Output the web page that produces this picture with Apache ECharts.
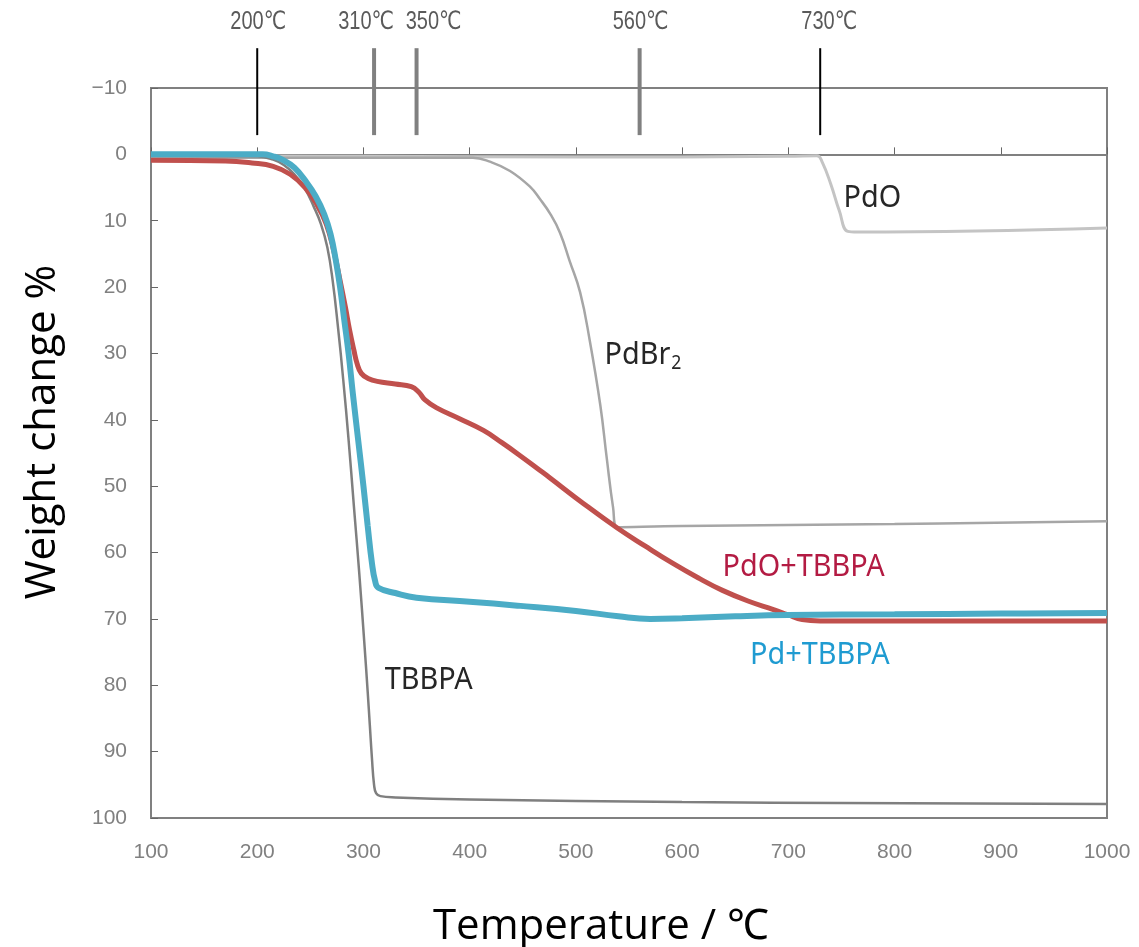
<!DOCTYPE html>
<html>
<head>
<meta charset="utf-8">
<script src="https://cdn.jsdelivr.net/npm/echarts@6/dist/echarts.min.js"></script>
<style>html,body{margin:0;padding:0;background:#fff}#c{width:1139px;height:947px}</style>
</head>
<body>
<div id="c"></div>
<script>
// ---- data ----
var xTicks = [100,200,300,400,500,600,700,800,900,1000];
var yTicks = [-10,0,10,20,30,40,50,60,70,80,90,100];

var pdO = [[100,0.2],[300,0.3],[500,0.4],[700,0.3],[727,0.2],[732,1.2],[740,4.5],[748,8.5],[756,11.6],[765,11.7],[1000,11.1]];
var pdBr2 = [[100,0.5],[300,0.5],[380,0.5],[403,0.5],[419,1.1],[438,2.5],[457,4.9],[466,6.7],[476,9.0],[485,11.8],[494,16.0],[504,20.8],[513,28.0],[523,37.8],[529,45.7],[535,53.2],[539,56.2],[600,56.0],[800,55.7],[1000,55.3]];
var tbbpa = [[100,0.2],[200,0.3],[215,0.8],[225,1.6],[235,3],[245,5.2],[253,7.8],[260,10.5],[266,14],[271,19],[276,26],[281,34],[286,43],[291,53],[296,63],[301,74],[304,81],[306,86],[308,91],[310,95],[312,96.3],[316,96.7],[330,96.9],[400,97.2],[600,97.6],[1000,97.9]];
var pdoTbbpa = [[100,0.9],[170,1.0],[195,1.3],[215,1.8],[231,3],[245,5],[256,7.5],[265,10.5],[272,14.5],[278,19],[283,23],[287,26.5],[291,29.5],[294,31.5],[298,33],[305,33.8],[313,34.2],[330,34.6],[345,35.0],[352,35.8],[358,37],[369,38.2],[390,39.8],[413,41.6],[430,43.4],[445,45.1],[466,47.6],[476,48.8],[507,52.6],[539,56.3],[565,59],[591,61.6],[615,63.8],[638,65.7],[662,67.3],[686,68.6],[700,69.4],[713,70.1],[730,70.3],[800,70.3],[1000,70.3]];
var pdTbbpa = [[100,0],[205,0],[215,0.3],[225,0.9],[235,2],[245,3.9],[255,6.3],[263,9],[269,12],[274,16],[278,20],[282,25],[286,30],[290,36],[295,43],[300,50],[304,56],[308,61.6],[311,64.3],[314,65.3],[330,66.1],[350,66.8],[400,67.4],[445,68],[500,68.8],[540,69.6],[570,70],[600,69.9],[650,69.6],[700,69.4],[800,69.3],[900,69.2],[1000,69.1]];

var markerTemps = [200,310,350,560,730];
var markerLabels = ['200℃','310℃','350℃','560℃','730℃'];

var labelNames = ['PdO','PdBr2','TBBPA','PdO+TBBPA','Pd+TBBPA'];
var labelX = [752,527,320,638,664];
var labelY = [6.6,30.3,79.3,62.2,75.5];

// ---- styles ----
var markerStyle = {200:{c:'#000',w:2,dx:1},310:{c:'#808080',w:4,dx:-8},350:{c:'#808080',w:4,dx:17},560:{c:'#808080',w:4,dx:1},730:{c:'#000',w:2,dx:9}};
var labelColors = {'PdO':'#262626','PdBr2':'#262626','TBBPA':'#262626','PdO+TBBPA':'#b31b43','Pd+TBBPA':'#1f9bd1'};
var tickFont = "'Liberation Sans','DejaVu Sans',sans-serif";
var textFont = "'Noto Sans',sans-serif";

var chart = echarts.init(document.getElementById('c'), null, {renderer:'canvas'});

function lineSeries(name, data, color, width, z){
  return {name:name, type:'line', data:data, showSymbol:false, symbol:'none', smooth:0.45,
    lineStyle:{color:color, width:width}, z:z, animation:false};
}

var option = {
  backgroundColor:'#fff',
  animation:false,
  grid:{left:151, right:32, top:88, bottom:129, containLabel:false, outerBoundsMode:'none',
    show:true, borderColor:'#808080', borderWidth:2, backgroundColor:'transparent'},
  xAxis:{type:'value', min:100, max:1000, interval:100,
    name:'Temperature / ℃', nameLocation:'middle', nameGap:88,
    nameTextStyle:{fontSize:42, color:'#000', fontFamily:"'Open Sans',sans-serif", padding:[0,56,0,0]},
    axisLine:{show:true, lineStyle:{color:'#808080', width:2}},
    axisTick:{show:true, inside:true, length:7, lineStyle:{color:'#666', width:1}},
    axisLabel:{margin:24, fontSize:21, color:'#808080', fontFamily:tickFont,
      formatter:function(v){return xTicks.indexOf(v)>=0 ? String(v) : '';}},
    splitLine:{show:false}},
  yAxis:{type:'value', inverse:true, min:-10, max:100, interval:10,
    name:'Weight change %', nameLocation:'middle', nameGap:87, nameRotate:90,
    nameTextStyle:{fontSize:42, color:'#000', fontFamily:"'Open Sans',sans-serif", padding:[0,0,0,42]},
    axisLine:{show:true, lineStyle:{color:'#808080', width:2}},
    axisTick:{show:true, inside:true, length:7, lineStyle:{color:'#666', width:1}},
    axisLabel:{margin:24, fontSize:21, color:'#808080', fontFamily:tickFont,
      formatter:function(v){ if(yTicks.indexOf(v)<0) return ''; return v<0 ? '−'+Math.abs(v) : String(v);}},
    splitLine:{show:false}},
  series:[
    lineSeries('PdO', pdO, '#c4c4c4', 3, 2),
    lineSeries('PdBr2', pdBr2, '#a6a6a6', 2.5, 3),
    lineSeries('TBBPA', tbbpa, '#7f7f7f', 2.5, 4),
    lineSeries('PdO+TBBPA', pdoTbbpa, '#c0504d', 5, 5),
    lineSeries('Pd+TBBPA', pdTbbpa, '#4bacc6', 6, 6),
    {type:'custom', clip:false, z:10, animation:false, silent:true,
      data:markerTemps.map(function(t,i){return [t, i];}),
      renderItem:function(params, api){
        var x = api.value(0), i = api.value(1);
        var st = markerStyle[x];
        var p1 = api.coord([x,-16]), p2 = api.coord([x,-2.9]), pl = api.coord([x,-19.9]);
        return {type:'group', children:[
          {type:'line', shape:{x1:p1[0],y1:p1[1],x2:p2[0],y2:p2[1]}, style:{stroke:st.c, lineWidth:st.w}},
          {type:'text', x:pl[0]+st.dx, y:pl[1], scaleX:0.8, style:{text:markerLabels[i], align:'center', verticalAlign:'middle',
            fontSize:25, fontFamily:tickFont, fill:'#5a5a5a'}}
        ]};
      }},
    {type:'custom', clip:false, z:11, animation:false, silent:true,
      data:labelNames.map(function(n,i){return [labelX[i], labelY[i], i];}),
      renderItem:function(params, api){
        var i = api.value(2), n = labelNames[i];
        var p = api.coord([api.value(0), api.value(1)]);
        var col = labelColors[n];
        var txt = n === 'PdBr2' ? '{a|PdBr}{s|2}' : '{a|' + n + '}';
        return {type:'text', x:p[0], y:p[1], scaleX:0.93, style:{text:txt, align:'left', verticalAlign:'middle',
          rich:{a:{fill:col, fontSize:31, fontFamily:textFont},
                s:{fill:col, fontSize:19, fontFamily:textFont, padding:[16,0,0,1]}}}};
      }}
  ]
};
chart.setOption(option);
</script>
</body>
</html>
